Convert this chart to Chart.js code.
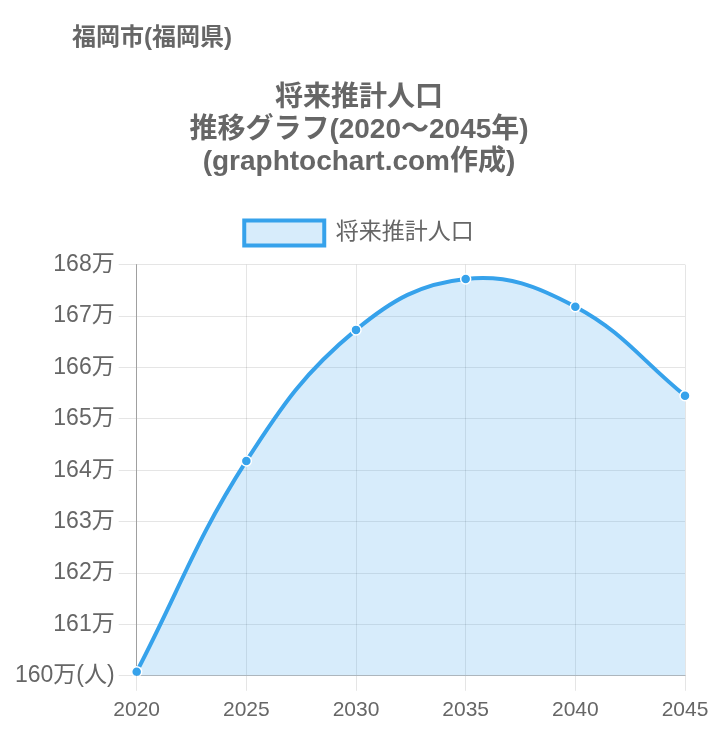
<!DOCTYPE html>
<html>
<head>
<meta charset="utf-8">
<script src="https://cdn.jsdelivr.net/npm/chart.js@4.4.1/dist/chart.umd.min.js"></script>
<style>
    body { margin: 0; background: #fff; }
    #wrap { position: relative; width: 718px; height: 736px; }
    #city {
        position: absolute; left: 72px; top: 17px;
        font: bold 24px "Liberation Sans", "Noto Sans CJK JP", sans-serif;
        color: #666;
    }
    #chart-box { position: absolute; left: 0; top: 0; width: 718px; height: 736px; }
</style>
</head>
<body>
<div id="wrap">
    <div id="chart-box"><canvas id="myChart"></canvas></div>
    <div id="city">福岡市(福岡県)</div>
</div>
<script>
// data (persons)
var years = ['2020', '2025', '2030', '2035', '2040', '2045'];
var population = [1600800, 1641800, 1667300, 1677200, 1671800, 1654500];
var y_min = 1600000;
var y_max = 1680000;
var y_step = 10000;
var title_lines = ['将来推計人口', '推移グラフ(2020～2045年)', '(graphtochart.com作成)'];
var series_label = '将来推計人口';

var font_family = '"Liberation Sans", "Noto Sans CJK JP", sans-serif';
Chart.defaults.font.family = font_family;
Chart.defaults.color = '#666';

// a bit more room under the legend
var legend_gap = {
    id: 'legend_gap',
    beforeInit: function (chart) {
        let orig = chart.legend.fit;
        chart.legend.fit = function () {
            orig.bind(chart.legend)();
            this.height += 9;
        };
    },
    // keep title + legend centred on the canvas, not on the padded area
    afterLayout: function (chart) {
        let shift = (chart.width - (chart.titleBlock.left + chart.titleBlock.right)) / 2;
        [chart.titleBlock, chart.legend].forEach((b) => {
            b.left += shift;
            b.right += shift;
        });
    }
};

var ctx = document.getElementById('myChart');
var chart = new Chart(ctx, {
    type: 'line',
    data: {
        labels: years,
        datasets: [
            {
                label: series_label,
                data: population,
                fill: true,
                borderColor: '#36a2eb',
                backgroundColor: 'rgba(54, 162, 235, 0.2)',
                borderWidth: 4,
                tension: 0.4,
                pointRadius: 5,
                pointBackgroundColor: '#36a2eb',
                pointBorderColor: '#fff',
                pointBorderWidth: 1.5
            }
        ]
    },
    options: {
        responsive: true,
        maintainAspectRatio: false,
        animation: false,
        layout: { padding: { left: 11, right: 33, bottom: 6, top: 0 } },
        scales: {
            y: {
                min: y_min,
                max: y_max,
                ticks: {
                    stepSize: y_step,
                    font: { size: 23 },
                    color: '#666',
                    padding: 4,
                    callback: function (v) {
                        let s = Math.round(v / 10000) + '万';
                        if (v === y_min) s += '(人)';
                        return s;
                    }
                },
                grid: { color: 'rgba(0,0,0,0.1)', tickLength: 18 },
                border: { color: 'rgba(0,0,0,0.3)' }
            },
            x: {
                ticks: { font: { size: 21 }, color: '#666', padding: 7, maxRotation: 0 },
                grid: { color: 'rgba(0,0,0,0.1)', tickLength: 15, offset: false },
                offset: false,
                border: { color: 'rgba(0,0,0,0.2)' }
            }
        },
        plugins: {
            title: {
                display: true,
                text: title_lines,
                font: { size: 28, weight: 'bold', lineHeight: 1.15 },
                color: '#666',
                padding: { top: 82, bottom: 30 }
            },
            legend: {
                labels: {
                    font: { size: 23 },
                    color: '#666',
                    boxWidth: 80,
                    boxHeight: 25,
                    padding: 12
                }
            },
            tooltip: { enabled: false }
        }
    },
    plugins: [legend_gap]
});
</script>
</body>
</html>
